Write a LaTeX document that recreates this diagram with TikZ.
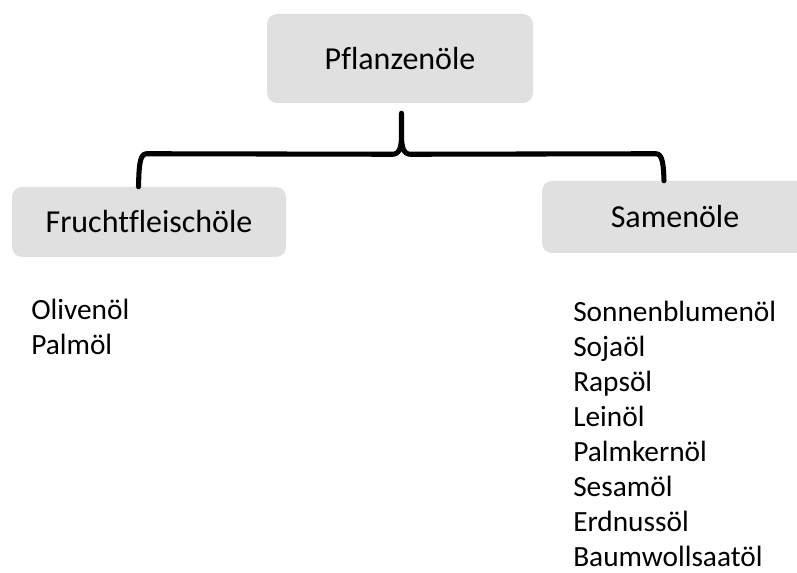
\documentclass[tikz,border=0pt]{standalone}
\usepackage{fontspec}
\setmainfont{Carlito}[Ligatures={NoCommon}]
\usepackage{tikz}
\usetikzlibrary{calc,positioning}
\definecolor{boxgray}{RGB}{224,224,224}

\begin{document}
\begin{tikzpicture}[x=0.75pt,y=-0.75pt,
    catbox/.style={fill=boxgray,rounded corners=7.5pt,inner sep=0pt,font=\fontsize{24}{29}\selectfont},
    listitem/.style={anchor=base west,inner sep=0pt,font=\fontsize{22}{26}\selectfont},
    bracepath/.style={line width=3.8pt,line cap=round,line join=round}]
  \useasboundingbox (0,0) rectangle (797,573);
  % category boxes
  \node[catbox,minimum width=199.5pt,minimum height=66.75pt] (oils) at (400,58.5) {Pflanzenöle};
  \node[catbox,minimum width=205.5pt,minimum height=52.5pt] (fruit) at (149,222) {Fruchtfleischöle};
  \begin{scope}
    \clip (0,0) rectangle (797,573);
    \node[catbox,minimum width=199.5pt,minimum height=54pt] (seed) at (675,217) {Samenöle};
  \end{scope}
  % brace
  \coordinate (tip) at ($(oils.south)+(1.5,10)$);
  \coordinate (lend) at ($(fruit.north)+(-10.5,0)$);
  \coordinate (rend) at ($(seed.north)+(-11,0)$);
  \draw[bracepath] (lend) .. controls ($(lend)+(0.5,-20)$) and ($(lend)+(1,-33)$) .. ($(lend)+(8,-33)$)
    -- ($(tip)+(-9,41)$) .. controls ($(tip)+(-2,41)$) and ($(tip)+(0,34)$) .. ($(tip)+(0,22)$) -- (tip)
    -- ($(tip)+(0,22)$) .. controls ($(tip)+(0,34)$) and ($(tip)+(2,41)$) .. ($(tip)+(9,41)$)
    -- ($(rend)+(-8,-27)$) .. controls ($(rend)+(-1,-27)$) and ($(rend)+(-0.5,-14)$) .. (rend);
  % lists
  \node[listitem] (f1) at (31,320) {Olivenöl};
  \node[listitem] (f2) at (31,355) {Palmöl};
  \foreach \oil [count=\i from 0] in {Sonnenblumenöl,Sojaöl,Rapsöl,Leinöl,Palmkernöl,Sesamöl,Erdnussöl,Baumwollsaatöl}
    \node[listitem] (s\i) at (573,322+35*\i) {\oil};
\end{tikzpicture}
\end{document}
